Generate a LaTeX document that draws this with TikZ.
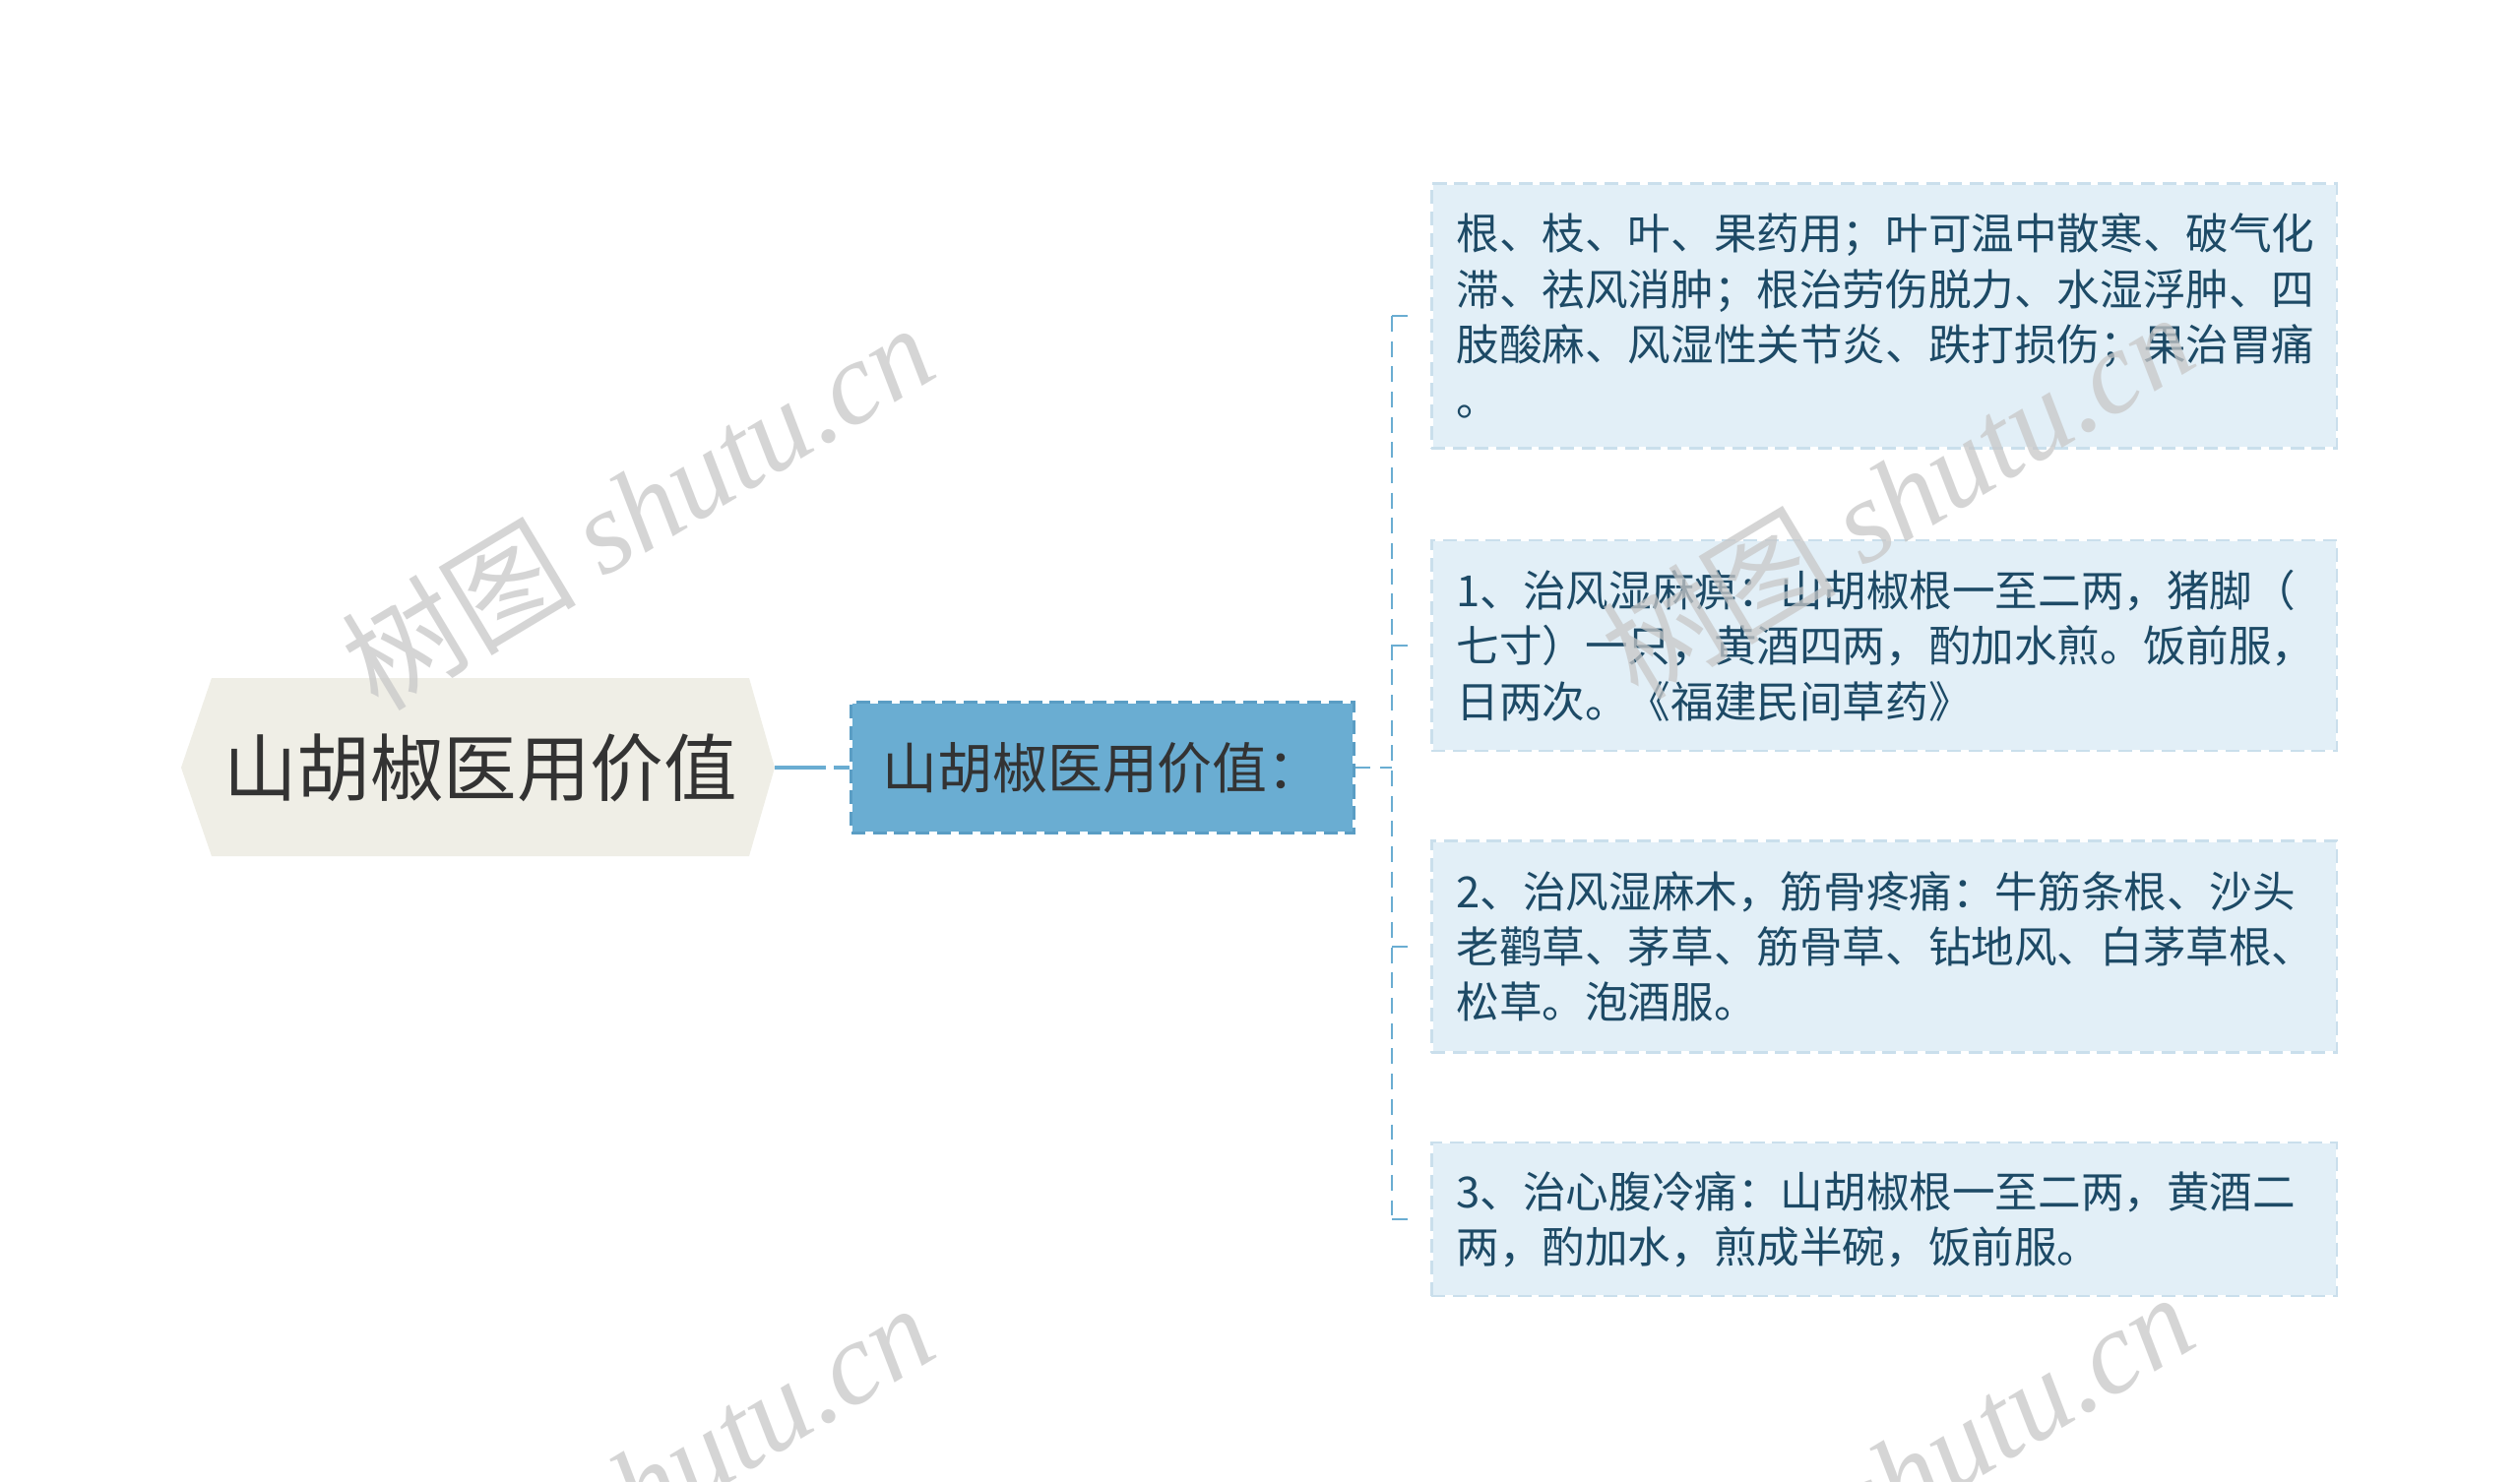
\documentclass[tikz,border=0pt]{standalone}
\usepackage{fontspec}
\setmainfont{Noto Sans CJK SC}
\newfontfamily\wmlatin{Liberation Serif}
\newfontfamily\wmcjk{Noto Sans CJK SC}
\usetikzlibrary{calc}
\definecolor{rootfill}{HTML}{EFEEE6}
\definecolor{roottext}{HTML}{333333}
\definecolor{midfill}{HTML}{6AADD2}
\definecolor{midborder}{HTML}{5A9DC4}
\definecolor{lineblue}{HTML}{6AADD2}
\definecolor{boxfill}{HTML}{E2EFF7}
\definecolor{boxborder}{HTML}{CADFEC}
\definecolor{boxtext}{HTML}{1D4A66}
\definecolor{wmgray}{HTML}{C8C8C8}
\begin{document}
\begin{tikzpicture}[x=0.01cm,y=-0.01cm,
  rootlabel/.style={inner sep=0pt, text=roottext, font=\fontsize{21.2}{26}\selectfont},
  midbox/.style={rectangle, minimum width=5.10cm, minimum height=1.325cm, inner sep=0pt,
    fill=midfill, draw=white, line width=0.8pt,
    postaction={draw=midborder, line width=0.8pt, dash pattern=on 4pt off 2.2pt},
    text=roottext, font=\fontsize{15.9}{20}\selectfont},
  leafbox/.style={rectangle, anchor=west, minimum width=9.19cm, text width=8.69cm,
    inner xsep=0.25cm, inner ysep=0pt, align=left,
    fill=boxfill, draw=white, line width=0.8pt,
    postaction={draw=boxborder, line width=0.8pt, dash pattern=on 4pt off 2.2pt},
    text=boxtext, font=\fontsize{12.4}{16}\selectfont},
  rootline/.style={draw=lineblue, line width=1.2pt, dash pattern=on 14.8pt off 2.3pt},
  bracketline/.style={draw=lineblue, line width=0.7pt, dash pattern=on 4.5pt off 2.8pt},
  wm/.style={text=wmgray, opacity=0.75, rotate=31, font=\fontsize{34}{40}\selectfont, inner sep=0pt}
]
\useasboundingbox (0,0) rectangle (2560,1505);
\fill[white] (0,0) rectangle (2560,1505);
\clip (0,0) rectangle (2560,1505);

% root hexagon
\fill[rootfill] (184,780) -- (215,689) -- (761,689) -- (787,780) -- (761,870) -- (215,870) -- cycle;
\node[rootlabel] (root) at (488,780) {山胡椒医用价值};
\coordinate (rootR) at (787,780);

% middle node
\node[midbox] (mid) at (1120,780) {山胡椒医用价值：};

% leaf boxes
\node[leafbox, minimum height=2.69cm] (b1) at (1453,321)
  {根、枝、叶、果药用；叶可温中散寒、破气化\\滞、祛风消肿；根治劳伤脱力、水湿浮肿、四\\肢酸麻、风湿性关节炎、跌打损伤；果治胃痛\\。};
\node[leafbox, minimum height=2.14cm] (b2) at (1453,656)
  {1、治风湿麻痹：山胡椒根一至二两，猪脚（\\七寸）一只，黄酒四两，酌加水煎。饭前服，\\日两次。《福建民间草药》};
\node[leafbox, minimum height=2.15cm] (b3) at (1453,962)
  {2、治风湿麻木，筋骨疼痛：牛筋条根、沙头\\老鹳草、茅草、筋骨草、钻地风、白茅草根、\\松草。泡酒服。};
\node[leafbox, minimum height=1.56cm] (b4) at (1453,1239)
  {3、治心腹冷痛：山胡椒根一至二两，黄酒二\\两，酌加水，煎成半碗，饭前服。};

% connectors
\draw[rootline] (rootR) -- (mid.west);
\coordinate (bk) at (1414,780);
\draw[bracketline] (mid.east) -- (bk);
\draw[bracketline] (bk |- b1.west) -- (bk |- b4.west);
\foreach \b in {b1,b2,b3,b4}
  \draw[bracketline, shorten >=0.16cm] (bk |- \b.west) -- (\b.west);

% watermarks
\foreach \p in {(647,514),(1927,503),(647,1510),(1927,1499)}
  \node[wm] at \p {{\wmcjk 树图} {\wmlatin\itshape shutu.cn}};
\end{tikzpicture}
\end{document}
